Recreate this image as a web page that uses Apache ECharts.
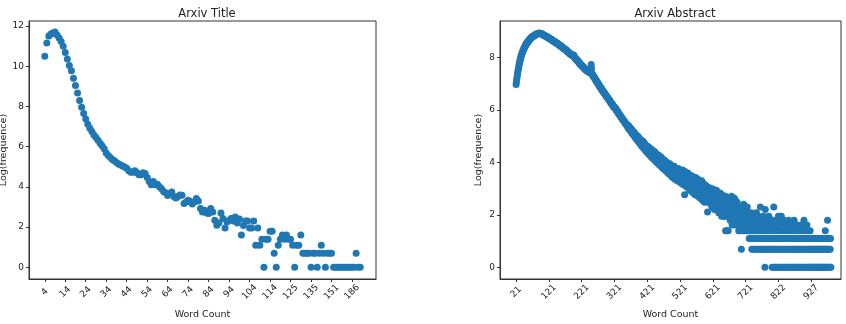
<!DOCTYPE html>
<html>
	<head>
		<meta charset="UTF-8">
		<title></title>
		<script src="https://cdn.jsdelivr.net/npm/echarts@6/dist/echarts.min.js"></script>
		<style>
			body { margin: 0; background: #fff; }
			#main { width: 846px; height: 324px; }
		</style>
	</head>
	<body>
		<div id="main"></div>
	</body>
	<script>
		// tick labels (one every 10 / 100 categories)
		var titleLabels = ['4', '14', '24', '34', '44', '54', '64', '74', '84', '94', '104', '114', '125', '135', '151', '186'];
		var abstractLabels = ['21', '121', '221', '321', '421', '521', '621', '721', '822', '927'];

		// log(frequence) per word count, title lengths
		var titleLogFreq = [
			10.5, 11.15, 11.5, 11.6, 11.65, 11.7, 11.55, 11.4, 11.23, 11.0,
			10.68, 10.36, 10.03, 9.77, 9.4, 9.04, 8.67, 8.29, 7.96, 7.65,
			7.38, 7.11, 6.92, 6.75, 6.58, 6.45, 6.32, 6.17, 6.04, 5.89,
			5.68, 5.56, 5.46, 5.36, 5.3, 5.21, 5.14, 5.09, 5.04, 4.99,
			4.93, 4.8, 4.73, 4.73, 4.8, 4.7, 4.6, 4.6, 4.7, 4.66,
			4.46, 4.26, 4.1, 4.26, 4.1, 4.13, 4.01, 3.9, 3.77, 3.7,
			3.57, 3.67, 3.74, 3.52, 3.44, 3.52, 3.6, 3.58, 3.17, 3.24,
			3.33, 3.27, 3.14, 3.25, 3.42, 3.3, 2.92, 2.75, 2.84, 2.7,
			2.67, 2.92, 2.75, 2.34, 2.09, 2.2, 2.7, 2.42, 1.95, 2.25,
			2.34, 2.42, 2.3, 2.5, 2.2, 2.4, 1.61, 2.08, 2.3, 2.3,
			1.95, 1.95, 2.3, 1.1, 1.95, 1.1, 1.39, 0, 1.39, 1.39,
			1.79, 1.79, 0.69, 0, 1.1, 1.39, 1.61, 1.39, 1.61, 1.39,
			1.39, 1.1, 0, 1.1, 1.1, 1.61, 0.69, 0.69, 0.69, 0.69,
			0, 0.69, 0.69, 0, 0.69, 1.1, 0.69, 0, 0.69, 0.69,
			0.69, 0, 0, 0, 0, 0, 0, 0, 0, 0,
			0, 0, 0.69, 0, 0
		];

		// log(frequence) per word count, abstract lengths
		var abstractLogFreq = [
			6.98, 7.08, 7.17, 7.26, 7.34, 7.42, 7.5, 7.57, 7.64, 7.71,
			7.78, 7.84, 7.89, 7.94, 7.99, 8.04, 8.08, 8.12, 8.16, 8.2,
			8.23, 8.26, 8.29, 8.32, 8.35, 8.38, 8.4, 8.43, 8.45, 8.48,
			8.5, 8.52, 8.54, 8.56, 8.58, 8.6, 8.61, 8.63, 8.64, 8.66,
			8.67, 8.69, 8.7, 8.71, 8.73, 8.74, 8.75, 8.76, 8.78, 8.79,
			8.8, 8.81, 8.82, 8.83, 8.84, 8.84, 8.85, 8.86, 8.87, 8.87,
			8.88, 8.89, 8.89, 8.9, 8.9, 8.91, 8.91, 8.92, 8.92, 8.93,
			8.93, 8.93, 8.93, 8.92, 8.92, 8.92, 8.91, 8.91, 8.9, 8.9,
			8.89, 8.89, 8.88, 8.87, 8.87, 8.86, 8.85, 8.85, 8.84, 8.83,
			8.83, 8.82, 8.81, 8.8, 8.8, 8.79, 8.78, 8.77, 8.77, 8.76,
			8.75, 8.74, 8.73, 8.73, 8.72, 8.71, 8.7, 8.69, 8.69, 8.68,
			8.67, 8.66, 8.65, 8.65, 8.64, 8.63, 8.62, 8.61, 8.61, 8.6,
			8.59, 8.58, 8.57, 8.56, 8.56, 8.55, 8.54, 8.53, 8.52, 8.51,
			8.5, 8.49, 8.48, 8.47, 8.46, 8.46, 8.45, 8.44, 8.43, 8.42,
			8.41, 8.4, 8.39, 8.38, 8.37, 8.36, 8.35, 8.34, 8.33, 8.32,
			8.31, 8.3, 8.29, 8.28, 8.27, 8.26, 8.25, 8.24, 8.23, 8.22,
			8.21, 8.2, 8.19, 8.17, 8.16, 8.15, 8.14, 8.13, 8.12, 8.11,
			8.1, 8.09, 8.08, 8.07, 8.08, 8.1, 8.09, 8.06, 8.03, 8.0,
			7.99, 7.97, 7.96, 7.94, 7.93, 7.92, 7.9, 7.89, 7.87, 7.86,
			7.85, 7.83, 7.82, 7.8, 7.79, 7.77, 7.76, 7.74, 7.73, 7.72,
			7.7, 7.69, 7.68, 7.66, 7.65, 7.64, 7.62, 7.61, 7.6, 7.59,
			7.57, 7.56, 7.55, 7.54, 7.53, 7.52, 7.51, 7.5, 7.49, 7.48,
			7.47, 7.46, 7.45, 7.44, 7.44, 7.43, 7.42, 7.5, 7.62, 7.74,
			7.6, 7.42, 7.38, 7.35, 7.33, 7.31, 7.29, 7.27, 7.25, 7.23,
			7.21, 7.19, 7.17, 7.15, 7.13, 7.11, 7.09, 7.07, 7.05, 7.03,
			7.01, 6.99, 6.97, 6.95, 6.93, 6.91, 6.89, 6.87, 6.85, 6.83,
			6.82, 6.8, 6.78, 6.76, 6.74, 6.72, 6.7, 6.69, 6.67, 6.65,
			6.63, 6.62, 6.6, 6.58, 6.56, 6.54, 6.53, 6.51, 6.49, 6.47,
			6.46, 6.44, 6.42, 6.4, 6.38, 6.37, 6.35, 6.33, 6.31, 6.29,
			6.27, 6.26, 6.24, 6.22, 6.2, 6.18, 6.16, 6.14, 6.12, 6.1,
			6.12, 6.1, 6.08, 6.06, 6.05, 6.02, 6.0, 5.98, 5.96, 5.95,
			5.93, 5.91, 5.9, 5.87, 5.86, 5.83, 5.82, 5.8, 5.77, 5.76,
			5.74, 5.73, 5.7, 5.69, 5.67, 5.65, 5.63, 5.62, 5.6, 5.58,
			5.56, 5.55, 5.53, 5.5, 5.5, 5.47, 5.45, 5.44, 5.42, 5.4,
			5.39, 5.34, 5.42, 5.31, 5.37, 5.28, 5.35, 5.24, 5.31, 5.22,
			5.23, 5.29, 5.15, 5.24, 5.12, 5.21, 5.09, 5.18, 5.05, 5.15,
			5.07, 5.14, 4.98, 5.09, 4.95, 5.06, 4.91, 5.03, 4.88, 5.01,
			4.92, 4.84, 4.99, 4.81, 4.94, 4.77, 4.91, 4.74, 4.88, 4.7,
			4.77, 4.86, 4.66, 4.8, 4.62, 4.83, 4.6, 4.74, 4.57, 4.78,
			4.63, 4.52, 4.72, 4.49, 4.67, 4.46, 4.66, 4.43, 4.6, 4.41,
			4.5, 4.62, 4.37, 4.55, 4.33, 4.58, 4.3, 4.5, 4.28, 4.53,
			4.38, 4.25, 4.5, 4.21, 4.43, 4.18, 4.47, 4.23, 4.15, 4.4,
			4.27, 4.12, 4.42, 4.13, 4.08, 4.37, 4.05, 4.31, 4.1, 4.01,
			4.16, 4.3, 3.98, 4.07, 4.27, 3.93, 4.04, 4.25, 3.9, 4.14,
			4.05, 3.88, 4.21, 3.92, 3.83, 4.15, 3.86, 4.07, 3.78, 4.1,
			3.93, 3.77, 4.09, 3.81, 3.71, 4.04, 3.76, 3.97, 3.67, 4.02,
			3.82, 3.65, 3.97, 3.7, 3.59, 3.93, 3.63, 3.87, 3.55, 3.95,
			3.72, 3.53, 3.9, 3.6, 3.48, 3.83, 3.57, 3.43, 3.77, 3.51,
			3.63, 3.45, 3.85, 3.38, 3.53, 3.75, 3.41, 3.49, 3.33, 3.73,
			3.54, 3.36, 3.69, 3.3, 3.43, 3.77, 3.33, 3.65, 3.26, 3.54,
			3.5, 3.29, 3.68, 3.23, 3.38, 3.62, 3.19, 3.33, 3.71, 3.26,
			3.43, 3.15, 3.57, 3.28, 2.77, 3.65, 3.21, 3.11, 3.54, 3.23,
			3.36, 3.07, 3.52, 3.18, 3.6, 3.03, 3.4, 3.47, 2.97, 3.33,
			3.28, 2.94, 3.43, 3.11, 3.5, 2.89, 3.29, 3.37, 3.0, 3.45,
			3.21, 2.83, 3.37, 3.06, 2.94, 3.43, 2.77, 3.24, 3.33, 2.89,
			3.14, 3.4, 2.77, 3.0, 3.3, 2.71, 2.94, 3.33, 2.83, 3.2,
			3.07, 2.64, 3.26, 2.89, 3.14, 2.71, 3.3, 2.83, 2.56, 3.04,
			2.99, 3.2, 2.64, 2.89, 3.09, 2.48, 2.83, 3.14, 2.71, 2.56,
			2.91, 3.09, 2.56, 2.83, 2.11, 3.0, 2.64, 2.48, 3.04, 2.77,
			2.84, 2.48, 3.0, 2.71, 2.4, 2.94, 2.56, 2.83, 2.3, 3.0,
			2.77, 2.48, 2.94, 2.4, 2.71, 2.2, 2.89, 2.56, 2.3, 2.83,
			2.64, 2.94, 2.2, 2.56, 2.83, 2.3, 2.48, 2.77, 2.08, 2.71,
			2.56, 2.2, 2.83, 2.4, 2.08, 2.71, 2.48, 1.95, 2.77, 2.3,
			2.48, 2.71, 2.08, 2.4, 1.95, 2.64, 2.3, 1.95, 2.71, 1.39,
			2.4, 2.08, 2.64, 2.08, 1.39, 2.56, 2.2, 1.39, 1.95, 2.64,
			2.3, 2.08, 2.56, 1.79, 2.2, 2.48, 1.95, 2.71, 2.08, 1.61,
			2.2, 2.48, 1.95, 2.3, 1.79, 2.64, 2.08, 1.61, 2.2, 2.56,
			2.08, 1.79, 2.4, 1.95, 2.48, 1.61, 2.2, 1.79, 2.08, 1.39,
			2.2, 1.95, 1.39, 2.3, 1.61, 2.08, 1.79, 0.69, 2.3, 1.39,
			1.95, 2.08, 1.61, 1.79, 2.4, 1.39, 1.95, 2.2, 1.61, 1.79,
			1.95, 2.08, 1.39, 1.79, 1.61, 2.3, 1.95, 1.39, 1.79, 2.08,
			1.61, 1.1, 1.95, 1.39, 1.79, 1.61, 1.1, 2.08, 1.39, 0.69,
			1.39, 1.79, 1.1, 1.61, 0.69, 1.95, 1.39, 1.1, 1.79, 0.69,
			1.61, 1.39, 1.1, 2.08, 0.69, 1.79, 1.39, 1.1, 1.61, 0.69,
			1.95, 1.39, 1.1, 1.79, 0.69, 2.3, 1.61, 1.1, 1.39, 0.69,
			1.79, 1.1, 1.61, 0.69, 1.39, 1.95, 1.1, 0.69, 1.61, 0,
			2.2, 1.39, 1.1, 0.69, 1.79, 1.1, 0.69, 1.39, 1.61, 0.69,
			1.1, 1.95, 0.69, 1.39, 1.1, 1.79, 0.69, 1.1, 1.61, 0.69,
			1.39, 0, 1.1, 1.79, 0.69, 0, 2.3, 1.1, 0.69, 1.39,
			0, 1.61, 1.1, 0.69, 0, 1.39, 1.1, 0.69, 1.79, 0,
			1.95, 1.1, 0.69, 0, 1.39, 1.1, 0.69, 1.61, 0, 1.95,
			1.1, 0.69, 0, 1.39, 1.1, 0.69, 0, 1.79, 1.1, 0.69,
			0, 1.39, 1.1, 0.69, 0, 1.61, 1.1, 0, 0.69, 1.39,
			1.1, 0, 1.79, 0.69, 1.1, 0, 1.39, 0.69, 1.1, 0,
			1.61, 0.69, 1.1, 0, 1.39, 0.69, 0, 1.1, 1.79, 0.69,
			0, 1.1, 1.39, 0.69, 0, 1.1, 0.69, 1.61, 0, 1.1,
			0.69, 1.39, 0, 1.1, 0.69, 0, 1.39, 1.1, 0.69, 0,
			1.1, 1.61, 0.69, 0, 1.1, 1.39, 0, 0.69, 1.79, 1.1,
			0, 0.69, 1.39, 1.1, 0, 0.69, 1.1, 1.61, 0, 0.69,
			1.39, 1.1, 0, 0.69, 1.1, 0, 0.69, 1.39, 1.1, 0,
			0.69, 1.1, 0, 0.69, 1.1, 0, 0.69, 1.1, 0, 0.69,
			1.1, 0, 0.69, 1.1, 0, 0.69, 1.1, 0, 0.69, 1.1,
			0, 0.69, 1.1, 0, 0.69, 1.1, 0, 0.69, 1.1, 0,
			0.69, 1.1, 0, 0.69, 1.1, 0, 0.69, 1.1, 0, 0.69,
			1.1, 0, 0.69, 1.39, 0, 0.69, 1.1, 0, 0.69, 1.1,
			1.79, 0, 0.69, 1.1, 0, 0.69, 1.1, 0, 0.69, 1.1,
			0
		];

		var yTicksTitle = [0, 2, 4, 6, 8, 10, 12];
		var yTicksAbstract = [0, 2, 4, 6, 8];

		var font = 'DejaVu Sans';
		var textColor = '#222';
		var lineColor = '#333';
		var dotColor = '#1f77b4';

		function xAxisFor(gridIndex, labels, step, min, max) {
			var ticks = labels.map(function(l, i) { return i * step; });
			return {
				type: 'value',
				gridIndex: gridIndex,
				min: min,
				max: max,
				name: 'Word Count',
				nameLocation: 'middle',
				nameGap: 31,
				nameTextStyle: { fontFamily: font, fontSize: 9.5, color: textColor },
				splitLine: { show: false },
				axisLine: { onZero: false, lineStyle: { color: lineColor, width: 1 } },
				axisTick: { customValues: ticks, length: 3, lineStyle: { color: lineColor } },
				axisLabel: {
					customValues: ticks,
					rotate: 45,
					align: 'center',
					verticalAlign: 'middle',
					margin: 13,
					fontFamily: font,
					fontSize: 9,
					color: textColor,
					formatter: function(v) { return labels[Math.round(v / step)]; }
				}
			};
		}

		function yAxisFor(gridIndex, ticks, min, max, gap) {
			return {
				type: 'value',
				gridIndex: gridIndex,
				min: min,
				max: max,
				name: 'Log(frequence)',
				nameLocation: 'middle',
				nameGap: gap,
				nameTextStyle: { fontFamily: font, fontSize: 9.5, color: textColor },
				splitLine: { show: false },
				axisLine: { show: true, onZero: false, lineStyle: { color: lineColor, width: 1 } },
				axisTick: { show: true, customValues: ticks, length: 3, lineStyle: { color: lineColor } },
				axisLabel: { customValues: ticks, margin: 5, fontFamily: font, fontSize: 9, color: textColor }
			};
		}

		var chart = echarts.init(document.getElementById('main'));
		chart.setOption({
			animation: false,
			backgroundColor: '#fff',
			title: [
				{ text: 'Arxiv Title', left: 202, top: 3, textAlign: 'center',
					textStyle: { fontFamily: font, fontSize: 11.5, fontWeight: 'normal', color: textColor } },
				{ text: 'Arxiv Abstract', left: 670, top: 3, textAlign: 'center',
					textStyle: { fontFamily: font, fontSize: 11.5, fontWeight: 'normal', color: textColor } }
			],
			grid: [
				{ left: 29, top: 21, width: 347, height: 258, outerBoundsMode: 'none', containLabel: false,
					show: true, borderColor: lineColor, borderWidth: 1, backgroundColor: 'transparent' },
				{ left: 500, top: 21, width: 341, height: 258, outerBoundsMode: 'none', containLabel: false,
					show: true, borderColor: lineColor, borderWidth: 1, backgroundColor: 'transparent' }
			],
			xAxis: [
				xAxisFor(0, titleLabels, 10, -7.7, 161.7),
				xAxisFor(1, abstractLabels, 100, -49, 991)
			],
			yAxis: [
				yAxisFor(0, yTicksTitle, -0.585, 12.25, 20),
				yAxisFor(1, yTicksAbstract, -0.45, 9.4, 16)
			],
			series: [{
				type: 'scatter',
				xAxisIndex: 0,
				yAxisIndex: 0,
				symbolSize: 7,
				itemStyle: { color: dotColor, opacity: 1 },
				data: titleLogFreq.map(function(v, i) { return [i, v]; })
			}, {
				type: 'scatter',
				xAxisIndex: 1,
				yAxisIndex: 1,
				symbolSize: 7,
				large: false,
				itemStyle: { color: dotColor, opacity: 1 },
				data: abstractLogFreq.map(function(v, i) { return [i, v]; })
			}]
		});
	</script>
</html>
